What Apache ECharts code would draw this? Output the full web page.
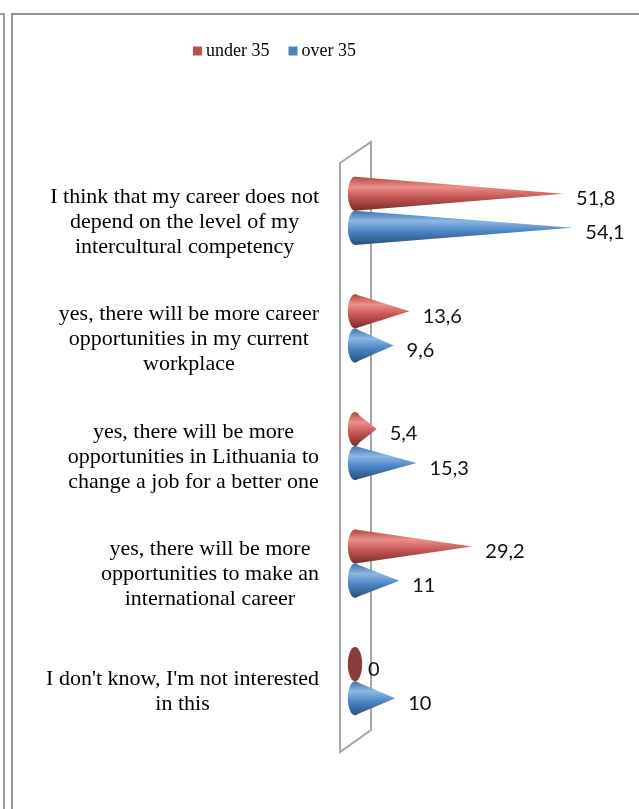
<!DOCTYPE html>
<html>
<head>
<meta charset="utf-8">
<script src="https://cdn.jsdelivr.net/npm/echarts@6/dist/echarts.min.js"></script>
<style>
html,body{margin:0;padding:0;background:#fff;}
#chart{width:639px;height:809px;}
</style>
</head>
<body>
<div id="chart"></div>
<script>
const categories = [
  "I think that my career does not\ndepend on the level of my\nintercultural competency",
  "yes, there will be more career\nopportunities in my current\nworkplace",
  "yes, there will be more\nopportunities in Lithuania to\nchange a job for a better one",
  "yes, there will be more\nopportunities to make an\ninternational career",
  "I don't know, I'm not interested\nin this"
];
const seriesNames = ["under 35", "over 35"];
const under35 = [51.8, 13.6, 5.4, 29.2, 0];
const over35 = [54.1, 9.6, 15.3, 11, 10];

const G = { left: 355, top: 152, height: 588, right: 43 };
const SERIF = "'Liberation Serif','Times New Roman',serif";
const SANS = "Lato,'Open Sans',sans-serif";

const palettes = [
  { base: '#C0504D', stops: ['#b24643', '#ec8f8c', '#c65754', '#7a2c2a'], dark: '#8a3b3a' },
  { base: '#4F81BD', stops: ['#3d72b1', '#8db7e4', '#4c84c3', '#27507f'], dark: '#2d5a8e' }
];

function coneRenderer(sign, pal) {
  return function (params, api) {
    const v = api.value(0);
    const c = api.value(1);
    const center = api.coord([0, c]);
    const band = api.size([0, 1])[1];
    const h = band * 0.29;
    const cy = center[1] + sign * h / 2;
    const x0 = center[0];
    const xt = api.coord([v, c])[0];
    const ry = h / 2;
    const rx = h * 0.21;
    const mk = () => new echarts.graphic.LinearGradient(0, 0, 0, 1, [
      { offset: 0, color: pal.stops[0] },
      { offset: 0.3, color: pal.stops[1] },
      { offset: 0.6, color: pal.stops[2] },
      { offset: 1, color: pal.stops[3] }
    ]);
    const children = [];
    if (v > 0) {
      children.push({ type: 'ellipse', shape: { cx: x0, cy: cy, rx: rx, ry: ry }, style: { fill: mk() } });
      children.push({ type: 'polygon', shape: { points: [[x0, cy - ry], [xt, cy], [x0, cy + ry]] }, style: { fill: mk() } });
    } else {
      children.push({ type: 'ellipse', shape: { cx: x0, cy: cy, rx: rx, ry: ry }, style: { fill: pal.dark } });
    }
    children.push({
      type: 'text',
      style: {
        text: String(v).replace('.', ','),
        x: xt + 13, y: cy + 5,
        verticalAlign: 'middle', align: 'left',
        font: '20px ' + SANS, fill: '#111'
      }
    });
    return { type: 'group', children: children };
  };
}

const fx = G.left - 15, bx = G.left + 16;
const gBottom = G.top + G.height;
const frameColor = '#8e9696';

const option = {
  animation: false,
  color: [palettes[0].base, palettes[1].base],
  legend: {
    left: 188, top: 37,
    icon: 'rect', itemWidth: 9, itemHeight: 9, itemGap: 19,
    textStyle: { fontFamily: SERIF, fontSize: 18, color: '#000', padding: [0, 0, 0, -1] },
    data: seriesNames
  },
  grid: { left: G.left, right: G.right, top: G.top, height: G.height },
  xAxis: { type: 'value', min: 0, max: 60, show: false },
  yAxis: {
    type: 'category', inverse: true, data: categories,
    axisLine: { show: false }, axisTick: { show: false }, splitLine: { show: false },
    axisLabel: {
      margin: 36,
      padding: [22, 0, 0, 0],
      formatter: v => v.split('\n').map(l => '{c|' + l + '}').join('\n'),
      rich: { c: { align: 'center', fontFamily: SERIF, fontSize: 22, lineHeight: 25, color: '#000' } }
    }
  },
  graphic: [
    { type: 'polygon', z: 0, shape: { points: [[fx, G.top + 11], [bx, G.top - 10], [bx, gBottom - 10], [fx, gBottom + 12]] },
      style: { fill: 'none', stroke: '#a6a6a6', lineWidth: 2 } },
    { type: 'polyline', z: 0, shape: { points: [[0, 14], [4, 14], [4, 809]] }, style: { fill: 'none', stroke: '#9a9f9f', lineWidth: 2 } },
    { type: 'polyline', z: 0, shape: { points: [[12, 809], [12, 14], [639, 14]] }, style: { fill: 'none', stroke: frameColor, lineWidth: 2 } }
  ],
  series: [
    { name: seriesNames[0], type: 'custom', renderItem: coneRenderer(-1, palettes[0]),
      data: under35.map((v, i) => [v, i]), encode: { x: 0, y: 1 } },
    { name: seriesNames[1], type: 'custom', renderItem: coneRenderer(1, palettes[1]),
      data: over35.map((v, i) => [v, i]), encode: { x: 0, y: 1 } }
  ]
};

const chart = echarts.init(document.getElementById('chart'), null, { renderer: 'canvas' });
chart.setOption(option);
</script>
</body>
</html>
